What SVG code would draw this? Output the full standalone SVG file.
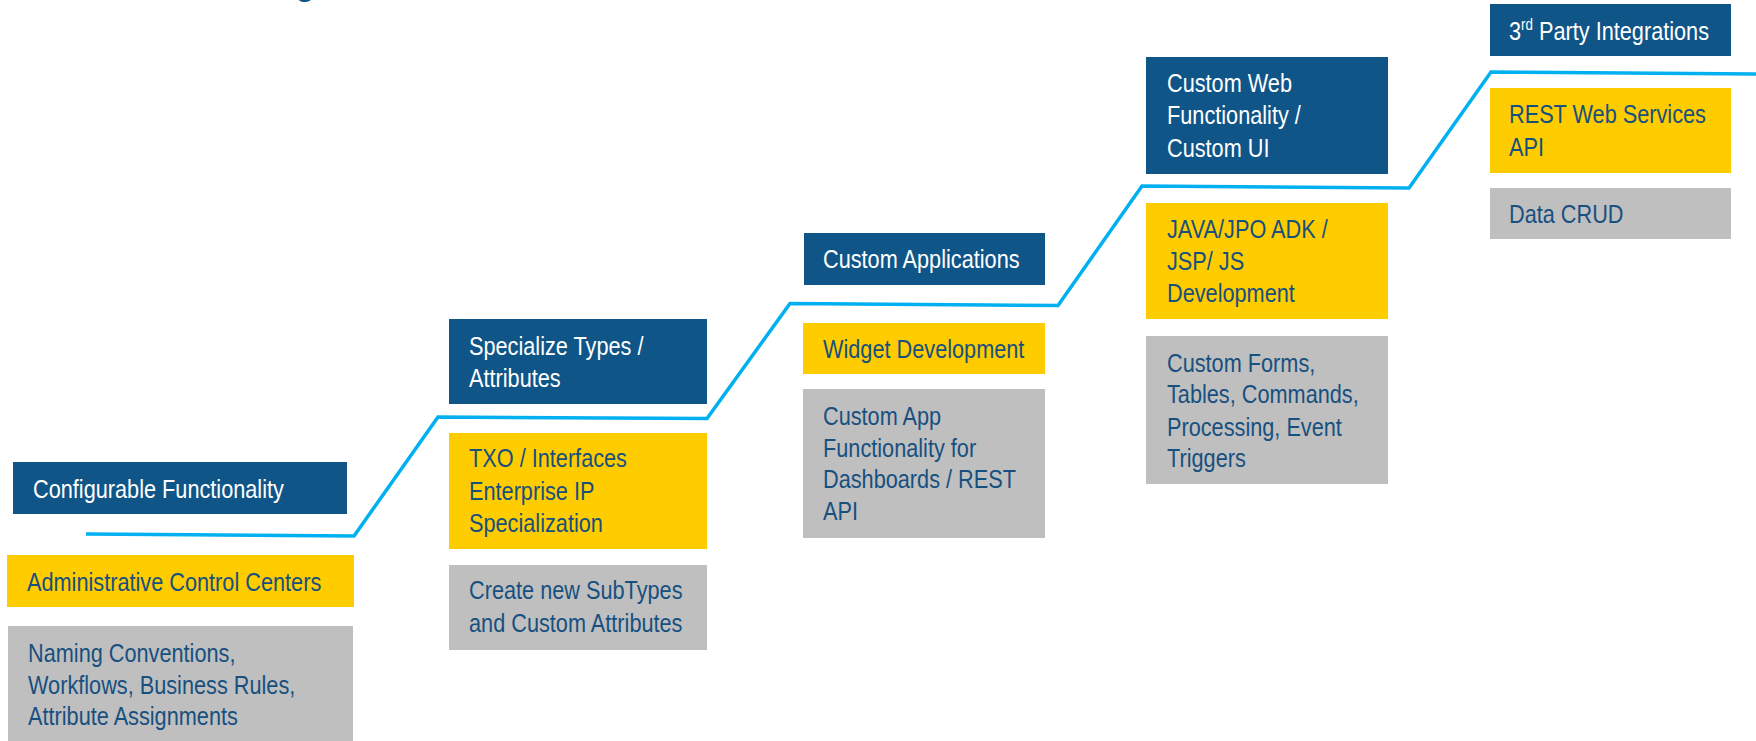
<svg xmlns="http://www.w3.org/2000/svg" width="1756" height="741" viewBox="0 0 1756 741">
<style>
  .blue{fill:#0F5587}
  .yel{fill:#FFCC00}
  .gry{fill:#BFBFBF}
  text{font-family:"Liberation Sans",Arial,sans-serif;font-size:26px}
  .w{fill:#FFFFFF}
  .d{fill:#17507F}
  .conn{fill:none;stroke:#00B0F0;stroke-width:3.5;stroke-linejoin:miter}
</style>
<rect width="1756" height="741" fill="#FFFFFF"/>
<text x="296" y="-4" style="font-size:30px;font-weight:bold" fill="#0F5587">g</text>
<g id="connectors">
  <path class="conn" d="M86,534 L354,536 L438,417 L707,418.5 L790,303.5 L1058,305.5 L1142,186 L1409,188 L1491,72 L1756,74"/>
</g>
<g id="configurable">
  <rect class="blue" x="13" y="462" width="334" height="52"/>
  <g transform="translate(33,0) scale(0.835,1)"><text class="w" x="0" y="498">Configurable Functionality</text></g>
</g>
<g id="admin-control">
  <rect class="yel" x="7" y="555" width="347" height="52"/>
  <g transform="translate(27,0) scale(0.835,1)"><text class="d" x="0" y="591">Administrative Control Centers</text></g>
</g>
<g id="naming">
  <rect class="gry" x="8" y="626" width="345" height="115"/>
  <g transform="translate(28,0) scale(0.835,1)">
  <text class="d" x="0" y="662">Naming Conventions,</text>
  <text class="d" x="0" y="694">Workflows, Business Rules,</text>
  <text class="d" x="0" y="725">Attribute Assignments</text>
  </g>
</g>
<g id="specialize">
  <rect class="blue" x="449" y="319" width="258" height="85"/>
  <g transform="translate(469,0) scale(0.835,1)">
  <text class="w" x="0" y="355">Specialize Types /</text>
  <text class="w" x="0" y="387">Attributes</text>
  </g>
</g>
<g id="txo">
  <rect class="yel" x="449" y="433" width="258" height="116"/>
  <g transform="translate(469,0) scale(0.835,1)">
  <text class="d" x="0" y="467">TXO / Interfaces</text>
  <text class="d" x="0" y="500">Enterprise IP</text>
  <text class="d" x="0" y="532">Specialization</text>
  </g>
</g>
<g id="subtypes">
  <rect class="gry" x="449" y="565" width="258" height="85"/>
  <g transform="translate(469,0) scale(0.835,1)">
  <text class="d" x="0" y="599">Create new SubTypes</text>
  <text class="d" x="0" y="632">and Custom Attributes</text>
  </g>
</g>
<g id="custom-apps">
  <rect class="blue" x="804" y="233" width="241" height="52"/>
  <g transform="translate(823,0) scale(0.835,1)"><text class="w" x="0" y="268">Custom Applications</text></g>
</g>
<g id="widget">
  <rect class="yel" x="803" y="323" width="242" height="51"/>
  <g transform="translate(823,0) scale(0.835,1)"><text class="d" x="0" y="358">Widget Development</text></g>
</g>
<g id="custom-app-func">
  <rect class="gry" x="803" y="389" width="242" height="149"/>
  <g transform="translate(823,0) scale(0.835,1)">
  <text class="d" x="0" y="425">Custom App</text>
  <text class="d" x="0" y="457">Functionality for</text>
  <text class="d" x="0" y="488">Dashboards / REST</text>
  <text class="d" x="0" y="520">API</text>
  </g>
</g>
<g id="custom-web">
  <rect class="blue" x="1146" y="57" width="242" height="117"/>
  <g transform="translate(1167,0) scale(0.835,1)">
  <text class="w" x="0" y="92">Custom Web</text>
  <text class="w" x="0" y="124">Functionality /</text>
  <text class="w" x="0" y="157">Custom UI</text>
  </g>
</g>
<g id="java">
  <rect class="yel" x="1146" y="203" width="242" height="116"/>
  <g transform="translate(1167,0) scale(0.835,1)">
  <text class="d" x="0" y="238">JAVA/JPO ADK /</text>
  <text class="d" x="0" y="270">JSP/ JS</text>
  <text class="d" x="0" y="302">Development</text>
  </g>
</g>
<g id="custom-forms">
  <rect class="gry" x="1146" y="336" width="242" height="148"/>
  <g transform="translate(1167,0) scale(0.835,1)">
  <text class="d" x="0" y="372">Custom Forms,</text>
  <text class="d" x="0" y="403">Tables, Commands,</text>
  <text class="d" x="0" y="436">Processing, Event</text>
  <text class="d" x="0" y="467">Triggers</text>
  </g>
</g>
<g id="third-party">
  <rect class="blue" x="1490" y="4" width="241" height="52"/>
  <g transform="translate(1509,0) scale(0.835,1)"><text class="w" x="0" y="40">3<tspan font-size="16" dy="-10">rd</tspan><tspan dy="10"> Party Integrations</tspan></text></g>
</g>
<g id="rest">
  <rect class="yel" x="1490" y="88" width="241" height="85"/>
  <g transform="translate(1509,0) scale(0.835,1)">
  <text class="d" x="0" y="123">REST Web Services</text>
  <text class="d" x="0" y="156">API</text>
  </g>
</g>
<g id="data-crud">
  <rect class="gry" x="1490" y="188" width="241" height="51"/>
  <g transform="translate(1509,0) scale(0.835,1)"><text class="d" x="0" y="223">Data CRUD</text></g>
</g>
</svg>
